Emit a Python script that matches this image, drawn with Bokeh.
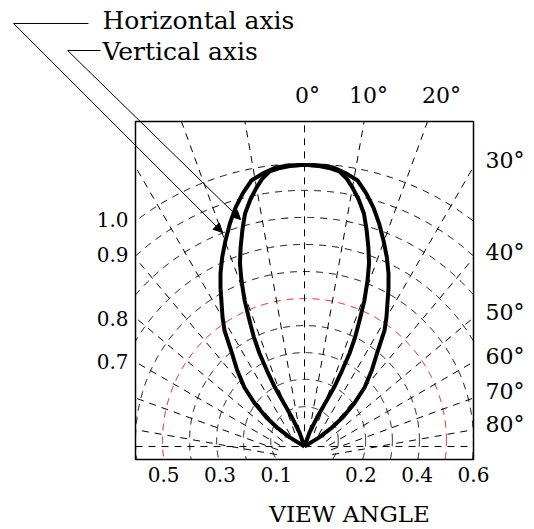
import numpy as np
from bokeh.plotting import figure
from bokeh.models import Range1d, Arrow, NormalHead
from bokeh.core.properties import value
from bokeh.embed import file_html
from bokeh.resources import INLINE

FONT = "DejaVu Serif"

# ---------------- data ----------------
# plot box (data units)
box_x = [-0.6, 0.6]
box_y = [0.0, 1.2]

# polar grid (dashed rings and radial lines)
grid_center_y = 0.0675
grid_radii = [0.120, 0.217, 0.312, 0.408, 0.504, 0.600, 0.696, 0.792, 0.888, 0.983]
grid_colors = ["black", "black", "black", "black", "red", "black", "black", "black", "black", "black"]
radial_angles_deg = [-80, -70, -60, -50, -40, -30, -20, -10, 0, 10, 20, 30, 40, 50, 60, 70, 80]
radial_start = 0.10
v_origin_y = 0.046

# radiation lobes: angle from axis (deg) and relative intensity
wide_angle_deg = [0, 3.0, 5.9, 8.5, 11.3, 13.7, 16.1, 18.6, 21.0, 23.5, 25.9, 28.0, 30.1,
                  32.4, 34.6, 37.9, 41.5, 45.5, 49.0, 52.7, 55.5, 58.2, 62.0]
wide_intensity = [1.0, 0.999, 0.996, 0.982, 0.963, 0.925, 0.883, 0.833, 0.783, 0.733, 0.683,
                  0.635, 0.587, 0.543, 0.500, 0.419, 0.360, 0.299, 0.235, 0.170, 0.115, 0.060, 0.0]
narrow_angle_deg = [0, 3.0, 5.0, 7.2, 9.0, 10.5, 12.4, 14.3, 16.0, 17.8, 19.4, 20.8, 22.3,
                    23.6, 24.8, 25.8, 26.3, 26.6, 25.5, 23.3, 19.6, 15.0]
narrow_intensity = [1.0, 0.997, 0.993, 0.985, 0.962, 0.935, 0.897, 0.854, 0.800, 0.742, 0.690,
                    0.630, 0.560, 0.488, 0.430, 0.367, 0.300, 0.234, 0.170, 0.112, 0.053, 0.0]

# tick labels
bottom_tick_pos = [-0.5, -0.3, -0.1, 0.2, 0.4, 0.6]
bottom_tick_labels = ["0.5", "0.3", "0.1", "0.2", "0.4", "0.6"]
left_tick_pos = [0.852, 0.729, 0.499, 0.348]
left_tick_labels = ["1.0", "0.9", "0.8", "0.7"]
right_tick_pos = [1.061, 0.735, 0.522, 0.366, 0.241, 0.124]
right_tick_labels = ["30°", "40°", "50°", "60°", "70°", "80°"]
top_tick_pos = [0.0107, 0.227, 0.486]
top_tick_labels = ["0°", "10°", "20°"]

# legend texts and leaders (corner, horizontal end, arrow tip)
legend_texts = ["Horizontal axis", "Vertical axis"]
legend_text_x = [-0.717, -0.717]
legend_text_y = [1.558, 1.448]
leaders = [
    {"corner": (-1.033, 1.548), "end": (-0.767, 1.548), "tip": (-0.291, 0.806)},
    {"corner": (-0.841, 1.452), "end": (-0.724, 1.452), "tip": (-0.227, 0.852)},
]
x_title = "VIEW ANGLE"

# ---------------- figure ----------------
PX = 281.67  # pixels per data unit
W, H = 534, 529
x0 = box_x[0] - 135 / PX
y1 = box_y[0] + 459 / PX
p = figure(width=W, height=H, x_range=Range1d(x0, x0 + W / PX), y_range=Range1d(y1 - H / PX, y1),
           min_border=0, x_axis_location=None, y_axis_location=None,
           toolbar_location=None, output_backend="svg")
p.grid.visible = False
p.outline_line_color = None
p.background_fill_color = "white"
p.border_fill_color = "white"


def inside(x, y):
    return (x >= box_x[0]) & (x <= box_x[1]) & (y >= box_y[0]) & (y <= box_y[1])


DASH = "7 6"

# dashed rings, clipped to box
t = np.linspace(0, 2 * np.pi, 1441)
for r, c in zip(grid_radii, grid_colors):
    xs = r * np.cos(t)
    ys = grid_center_y + r * np.sin(t)
    m = ~inside(xs, ys)
    xs = xs.copy(); ys = ys.copy()
    xs[m] = np.nan; ys[m] = np.nan
    p.line(xs, ys, line_color=c, line_dash=DASH, line_width=1)

# radial dashed lines, clipped to box
x_s, y_s, x_e, y_e = [], [], [], []
for a in radial_angles_deg:
    ar = np.radians(a)
    dx, dy = np.sin(ar), np.cos(ar)
    tmax = box_y[1] / dy
    if abs(dx) > 1e-9:
        tmax = min(tmax, (box_x[1] if dx > 0 else -box_x[0]) / abs(dx))
    x_s.append(radial_start * dx); y_s.append(radial_start * dy)
    x_e.append(tmax * dx); y_e.append(tmax * dy)
p.segment(x0=x_s, y0=y_s, x1=x_e, y1=y_e, line_color="black", line_dash=DASH, line_width=1)

# horizontal dashed base line through the lobe origin
p.segment(x0=[box_x[0]], y0=[v_origin_y], x1=[box_x[1]], y1=[v_origin_y],
          line_color="black", line_dash=DASH, line_width=1)

# plot box
p.quad(left=[box_x[0]], right=[box_x[1]], bottom=[box_y[0]], top=[box_y[1]],
       fill_color=None, line_color="black", line_width=1.5)


def lobe(angles, vals):
    a = np.radians(np.array(angles))
    r = np.array(vals)
    a_full = np.concatenate([-a[::-1], a[1:]])
    r_full = np.concatenate([r[::-1], r[1:]])
    return r_full * np.sin(a_full), v_origin_y + r_full * np.cos(a_full)


for ang, val in [(wide_angle_deg, wide_intensity), (narrow_angle_deg, narrow_intensity)]:
    x, y = lobe(ang, val)
    p.line(x, y, line_color="black", line_width=4, line_join="round")

# tick labels
off = 1 / PX
p.text(x=bottom_tick_pos, y=[box_y[0] - 7 * off] * len(bottom_tick_pos), text=bottom_tick_labels,
       text_font=value(FONT), text_font_size="20px", text_align="center", text_baseline="top",
       text_color="black")
p.text(x=[box_x[0] - 7 * off] * len(left_tick_pos), y=left_tick_pos, text=left_tick_labels,
       text_font=value(FONT), text_font_size="20px", text_align="right", text_baseline="middle",
       text_color="black")
p.text(x=[box_x[1] + 12 * off] * len(right_tick_pos), y=right_tick_pos, text=right_tick_labels,
       text_font=value(FONT), text_font_size="22px", text_align="left", text_baseline="middle",
       text_color="black")
p.text(x=top_tick_pos, y=[box_y[1] + 13 * off] * len(top_tick_pos), text=top_tick_labels,
       text_font=value(FONT), text_font_size="22px", text_align="center", text_baseline="bottom",
       text_color="black")
p.text(x=[0.16], y=[box_y[0] - 54 * off], text=[x_title], text_font=value(FONT),
       text_font_size="23px", text_align="center", text_baseline="middle", text_color="black")

# legend
p.text(x=legend_text_x, y=legend_text_y, text=legend_texts, text_font=value(FONT),
       text_font_size="25px", text_align="left", text_baseline="middle", text_color="black")
for ld in leaders:
    cx, cy = ld["corner"]
    ex, ey = ld["end"]
    tx, ty = ld["tip"]
    p.add_layout(Arrow(x_start=cx, y_start=cy, x_end=ex, y_end=ey, end=None,
                       line_color="black", line_width=1))
    p.add_layout(Arrow(x_start=cx, y_start=cy, x_end=tx, y_end=ty,
                       end=NormalHead(size=9, fill_color="black", line_color="black", line_width=1),
                       line_color="black", line_width=1))

open("out.html", "w").write(file_html(p, INLINE))
